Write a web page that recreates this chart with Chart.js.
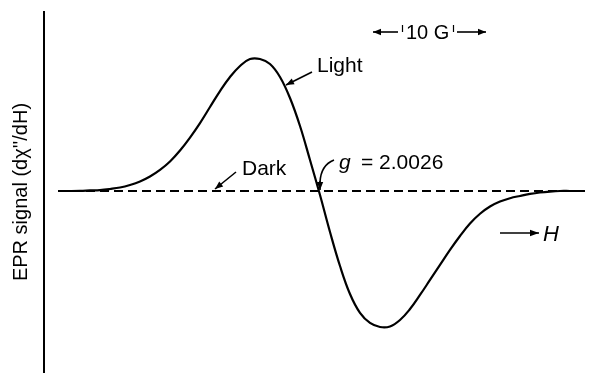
<!DOCTYPE html>
<html>
<head>
<meta charset="utf-8">
<script src="https://cdn.jsdelivr.net/npm/chart.js@4"></script>
<style>
  html, body { margin: 0; padding: 0; background: #fff; }
  canvas { display: block; }
</style>
</head>
<body>
<canvas id="c" width="589" height="375"></canvas>
<script>
// Magnetic field H (G, relative to the g = 2.0026 crossing)
const fieldH = [-51.6, -49.6, -47.6, -45.6, -43.6, -41.6, -39.6, -37.6, -35.6, -33.6,
  -31.6, -29.6, -27.6, -25.6, -23.6, -21.6, -19.6, -17.6, -15.6, -13.6,
  -11.6, -9.6, -7.6, -5.6, -3.6, -1.6, 0.4, 2.4, 4.4, 6.4,
  8.4, 10.4, 12.4, 14.4, 16.4, 18.4, 20.4, 22.4, 24.4, 26.4,
  28.4, 30.4, 32.4, 34.4, 36.4, 38.4, 40.4, 42.4, 44.4, 46.4,
  48.4, 50.4, 53.4];
// EPR derivative signal under light (arbitrary units)
const lightSignal = [0, 0, 0.001, 0.004, 0.007, 0.015, 0.026, 0.045, 0.071, 0.108,
  0.157, 0.220, 0.302, 0.399, 0.507, 0.627, 0.746, 0.851, 0.933, 0.985,
  0.985, 0.948, 0.851, 0.694, 0.485, 0.231, -0.030, -0.306, -0.560, -0.769,
  -0.910, -0.985, -1.015, -1.011, -0.963, -0.881, -0.776, -0.664, -0.552, -0.440,
  -0.336, -0.243, -0.170, -0.116, -0.079, -0.054, -0.037, -0.022, -0.011, -0.004,
  0, 0, 0];
// Dark: flat baseline
const darkH = [-52, 53.4];
const darkSignal = [0, 0];

const FONT = '"Liberation Sans", Arial, Helvetica, sans-serif';

function arrow(ctx, x1, y1, x2, y2, head) {
  ctx.beginPath();
  ctx.moveTo(x1, y1);
  ctx.lineTo(x2, y2);
  ctx.stroke();
  const a = Math.atan2(y2 - y1, x2 - x1);
  const h = head || 8, w = 3.2;
  ctx.beginPath();
  ctx.moveTo(x2, y2);
  ctx.lineTo(x2 - h * Math.cos(a) + w * Math.sin(a), y2 - h * Math.sin(a) - w * Math.cos(a));
  ctx.lineTo(x2 - h * Math.cos(a) - w * Math.sin(a), y2 - h * Math.sin(a) + w * Math.cos(a));
  ctx.closePath();
  ctx.fill();
}

const annotations = {
  id: 'annotations',
  afterDatasetsDraw(chart) {
    const ctx = chart.ctx;
    ctx.save();
    ctx.fillStyle = '#000';
    ctx.strokeStyle = '#000';
    ctx.lineWidth = 1.6;
    ctx.textBaseline = 'alphabetic';

    // Light
    ctx.font = '21px ' + FONT;
    ctx.fillText('Light', 317, 72);
    arrow(ctx, 312, 72, 286, 85, 8);

    // Dark
    ctx.fillText('Dark', 242, 175);
    arrow(ctx, 236, 172, 215, 189, 8);

    // g = 2.0026
    ctx.font = 'italic 21px ' + FONT;
    ctx.fillText('g', 339, 169);
    ctx.font = '21px ' + FONT;
    ctx.fillText('= 2.0026', 361, 169);
    ctx.beginPath();
    ctx.moveTo(334, 160);
    ctx.quadraticCurveTo(321, 165, 320, 182);
    ctx.stroke();
    arrow(ctx, 320, 181, 320, 190, 8);

    // 10 G scale
    ctx.font = '20px ' + FONT;
    ctx.fillText('10 G', 406, 39);
    ctx.lineWidth = 1.2;
    ctx.beginPath();
    ctx.moveTo(402.5, 25); ctx.lineTo(402.5, 32);
    ctx.moveTo(453.5, 25); ctx.lineTo(453.5, 32);
    ctx.stroke();
    ctx.lineWidth = 1.6;
    arrow(ctx, 398, 32, 373, 32, 8);
    arrow(ctx, 457, 32, 486, 32, 8);

    // -> H
    arrow(ctx, 500, 233, 539, 233, 9);
    ctx.font = 'italic 22px ' + FONT;
    ctx.fillText('H', 543, 241);

    ctx.restore();
  }
};

new Chart(document.getElementById('c'), {
  type: 'line',
  data: {
    datasets: [
      {
        label: 'Dark',
        data: darkH.map((h, i) => ({ x: h, y: darkSignal[i] })),
        borderColor: '#000',
        borderWidth: 2,
        borderDash: [9, 5],
        pointRadius: 0,
        fill: false
      },
      {
        label: 'Light',
        data: fieldH.map((h, i) => ({ x: h, y: lightSignal[i] })),
        borderColor: '#000',
        borderWidth: 2.2,
        pointRadius: 0,
        tension: 0.4,
        fill: false
      }
    ]
  },
  options: {
    responsive: false,
    animation: false,
    devicePixelRatio: 1,
    layout: { padding: { top: 12, bottom: 3, left: 0, right: 0 } },
    plugins: { legend: { display: false }, tooltip: { enabled: false } },
    scales: {
      x: { type: 'linear', min: -54.8, max: 54.2, display: false },
      y: {
        min: -1.351, max: 1.336,
        grid: { display: false, drawTicks: false },
        border: { display: true, color: '#000', width: 2 },
        ticks: { display: false },
        title: {
          display: true,
          text: "EPR signal (dχ''/dH)",
          color: '#000',
          font: { family: FONT, size: 20 },
          padding: { top: 9, bottom: 0 }
        },
        afterFit(scale) { scale.width = 44; }
      }
    }
  },
  plugins: [annotations]
});
</script>
</body>
</html>
